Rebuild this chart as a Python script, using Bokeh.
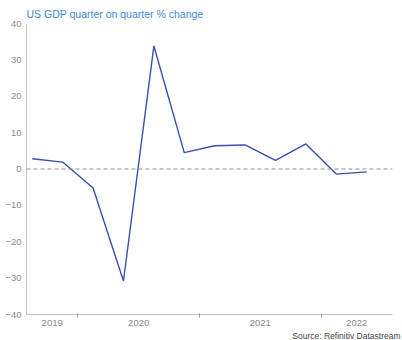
from bokeh.plotting import figure
from bokeh.models import Range1d, FixedTicker, Span, Title
from bokeh.embed import file_html
from bokeh.resources import INLINE

# Data: US GDP quarter-on-quarter % change (annualised), 2019 Q3 - 2022 Q2
quarters = ["2019 Q3", "2019 Q4", "2020 Q1", "2020 Q2", "2020 Q3", "2020 Q4",
            "2021 Q1", "2021 Q2", "2021 Q3", "2021 Q4", "2022 Q1", "2022 Q2"]
gdp_change = [2.8, 1.9, -5.2, -30.8, 33.8, 4.5, 6.4, 6.6, 2.4, 6.9, -1.4, -0.8]
years = ["2019", "2020", "2021", "2022"]
y_ticks = [-40, -30, -20, -10, 0, 10, 20, 30, 40]

title_text = "US GDP quarter on quarter % change"
source_text = "Source: Refinitiv Datastream"

FONT = "Liberation Sans"
x = list(range(len(quarters)))
x_start, x_end = -0.19, 11.85

# year boundaries (between Q4 and Q1) and centres of the visible part of each year
year_of = [q.split()[0] for q in quarters]
boundaries = [i - 0.5 for i in range(1, len(quarters)) if year_of[i] != year_of[i - 1]]
edges = [x_start] + boundaries + [x_end]
label_pos = [round((edges[i] + edges[i + 1]) / 2, 3) for i in range(len(years))]

p = figure(width=402, height=340, output_backend="svg", toolbar_location=None,
           x_range=Range1d(x_start, x_end), y_range=Range1d(-40, 40),
           min_border_left=26, min_border_right=10, min_border_top=23,
           min_border_bottom=0)
p.outline_line_color = None
p.grid.visible = False
p.background_fill_color = "white"
p.border_fill_color = "white"

p.add_layout(Span(location=0, dimension="width", line_color="#8c8c8c",
                  line_width=1, line_dash="4 3"))

p.line(x, gdp_change, line_color="#3a4fb0", line_width=1.4)

axis_grey = "#c4c4c4"
label_grey = "#8a8a8a"

p.xaxis.ticker = FixedTicker(ticks=label_pos, minor_ticks=boundaries)
p.xaxis.major_label_overrides = {pos: yr for pos, yr in zip(label_pos, years)}
p.xaxis.major_tick_line_color = None
p.xaxis.major_tick_out = 0
p.xaxis.major_tick_in = 0
p.xaxis.minor_tick_line_color = "#9a9a9a"
p.xaxis.minor_tick_out = 3
p.xaxis.minor_tick_in = 1
p.xaxis.axis_line_color = axis_grey
p.xaxis.major_label_text_color = label_grey
p.xaxis.major_label_text_font = FONT
p.xaxis.major_label_text_font_size = "9.5px"
p.xaxis.major_label_standoff = 2

p.yaxis.ticker = FixedTicker(ticks=y_ticks)
p.yaxis.major_tick_line_color = None
p.yaxis.major_tick_out = 0
p.yaxis.major_tick_in = 0
p.yaxis.minor_tick_line_color = None
p.yaxis.axis_line_color = axis_grey
p.yaxis.major_label_text_color = label_grey
p.yaxis.major_label_text_font = FONT
p.yaxis.major_label_text_font_size = "9.5px"
p.yaxis.major_label_standoff = 5

p.add_layout(Title(text=title_text, align="left", text_color="#3d8bd3",
                   text_font=FONT, text_font_size="10.5px",
                   text_font_style="normal", standoff=8, offset=0), "above")
p.add_layout(Title(text=source_text, align="right", text_color="#444444",
                   text_font=FONT, text_font_size="8.5px",
                   text_font_style="normal", standoff=0, offset=-8), "below")

open("out.html", "w").write(file_html(p, INLINE))
